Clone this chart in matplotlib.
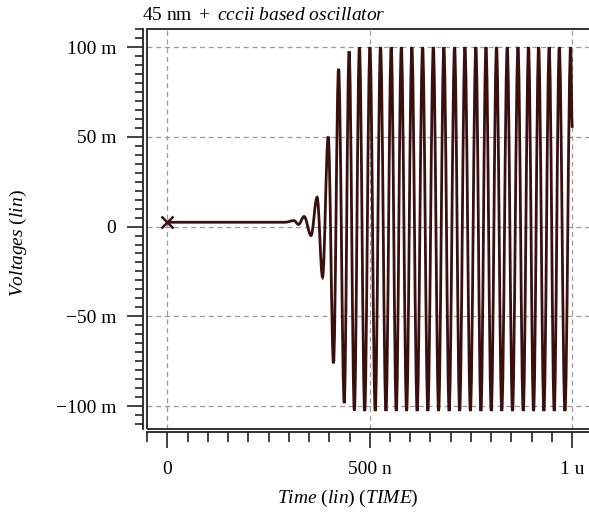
import matplotlib
matplotlib.use('Agg')
import matplotlib.pyplot as plt
from matplotlib.path import Path
from matplotlib.patches import PathPatch, Rectangle
from matplotlib.ticker import FixedLocator, FixedFormatter, MultipleLocator

# waveform extrema (time in ns, voltage in mV)
t_ns = [0, 290, 313, 324, 338, 355, 370, 383.5, 397.5, 410.5, 423, 437, 449, 462, 474.5,
        487.5, 500.5, 513.5, 526.6, 540, 553, 565.5, 578, 591, 604, 617, 630.5, 643.5, 657,
        670, 683, 696, 709.5, 722, 735, 748.5, 762, 774.5, 787, 800, 813, 826, 839.5,
        852.5, 866, 879, 892, 904.5, 917, 930, 943, 955.5, 968, 982, 996, 1000]
v_mv = [2.4, 2.4, 3.3, 1.2, 5.6, -5.0, 16.3, -28.2, 50.1, -76.2, 87.9, -98.4, 97.7, -102.5, 99.9,
        -102.8, 100, -102.8, 100, -102.8, 100, -102.8, 100, -102.8, 100, -102.8, 100, -102.8, 100,
        -102.8, 100, -102.8, 100, -102.8, 100, -102.8, 100, -102.8, 100, -102.8, 100, -102.8, 100,
        -102.8, 100, -102.8, 100, -102.8, 100, -102.8, 100, -102.8, 100, -102.8, 100, 55]

marker_t, marker_v = 0, 2.3

x_ticks = [0, 500, 1000]
x_labels = ['0', '500 n', '1 u']
y_ticks = [-100, -50, 0, 50, 100]
y_labels = ['\u2212100 m', '\u221250 m', '0', '50 m', '100 m']

plt.rcParams.update({'font.family': 'Liberation Serif', 'font.size': 14,
                     'mathtext.fontset': 'custom',
                     'mathtext.rm': 'Liberation Serif',
                     'mathtext.it': 'Liberation Serif:italic'})

fig = plt.figure(figsize=(5.89, 5.12), dpi=100)
ax = fig.add_axes([147 / 589, 83.5 / 512, 445.5 / 589, 399.4 / 512])
ax.set_xlim(-50, 1050)
ax.set_ylim(-112.5, 110)

# smooth curve through the extrema (cubic segments, flat tangents at each extremum)
k = 0.3634
verts = [(t_ns[0], v_mv[0])]
codes = [Path.MOVETO]
for i in range(len(t_ns) - 1):
    t0, v0, t1, v1 = t_ns[i], v_mv[i], t_ns[i + 1], v_mv[i + 1]
    dt = t1 - t0
    verts += [(t0 + k * dt, v0), (t1 - k * dt, v1), (t1, v1)]
    codes += [Path.CURVE4] * 3
curve = PathPatch(Path(verts, codes), facecolor='none', edgecolor='#3a0f0f', lw=2.0, zorder=3)
ax.add_patch(curve)
ax.plot([marker_t], [marker_v], marker='x', color='#3a0f0f', markersize=8, mew=1.8, zorder=4)

# grid
ax.grid(True, which='major', color='#9a9a9a', linestyle=(0, (4, 3)), lw=0.9)

# box around the plot area
for s in ['top', 'right']:
    ax.spines[s].set_visible(False)
ax.add_patch(Rectangle((0, 0), 1, 1, transform=ax.transAxes, fill=False,
                       edgecolor='#222222', lw=1.3, clip_on=False, zorder=5))

# detached axes
for s in ['left', 'bottom']:
    ax.spines[s].set_position(('outward', 2.6))
    ax.spines[s].set_color('#222222')
    ax.spines[s].set_linewidth(1.3)

ax.xaxis.set_major_locator(FixedLocator(x_ticks))
ax.xaxis.set_major_formatter(FixedFormatter(x_labels))
ax.xaxis.set_minor_locator(MultipleLocator(50))
ax.yaxis.set_major_locator(FixedLocator(y_ticks))
ax.yaxis.set_major_formatter(FixedFormatter(y_labels))
ax.yaxis.set_minor_locator(MultipleLocator(5))

ax.tick_params(axis='both', which='both', direction='out', color='#222222', width=1.2)
ax.tick_params(axis='y', which='major', length=11.5, pad=8)
ax.tick_params(axis='y', which='minor', length=5.8)
ax.tick_params(axis='x', which='major', length=11.5, pad=9)
ax.tick_params(axis='x', which='minor', length=7.5)

# titles / labels
fig.text(142 / 589, 1 - 20.5 / 512, r'$\mathrm{45\ nm\ +\ }\mathit{cccii\ based\ oscillator}$',
         ha='left', va='baseline', fontsize=14)
fig.text(348 / 589, 1 - 498 / 512, r'$\mathit{Time}\ \mathrm{(}\mathit{lin}\mathrm{)\ (}\mathit{TIME}\mathrm{)}$',
         ha='center', va='center', fontsize=14)
fig.text(18 / 589, 1 - 243 / 512, r'$\mathit{Voltages}\ \mathrm{(}\mathit{lin}\mathrm{)}$',
         ha='center', va='center', rotation=90, fontsize=14)

fig.savefig('out.png', dpi=100)
